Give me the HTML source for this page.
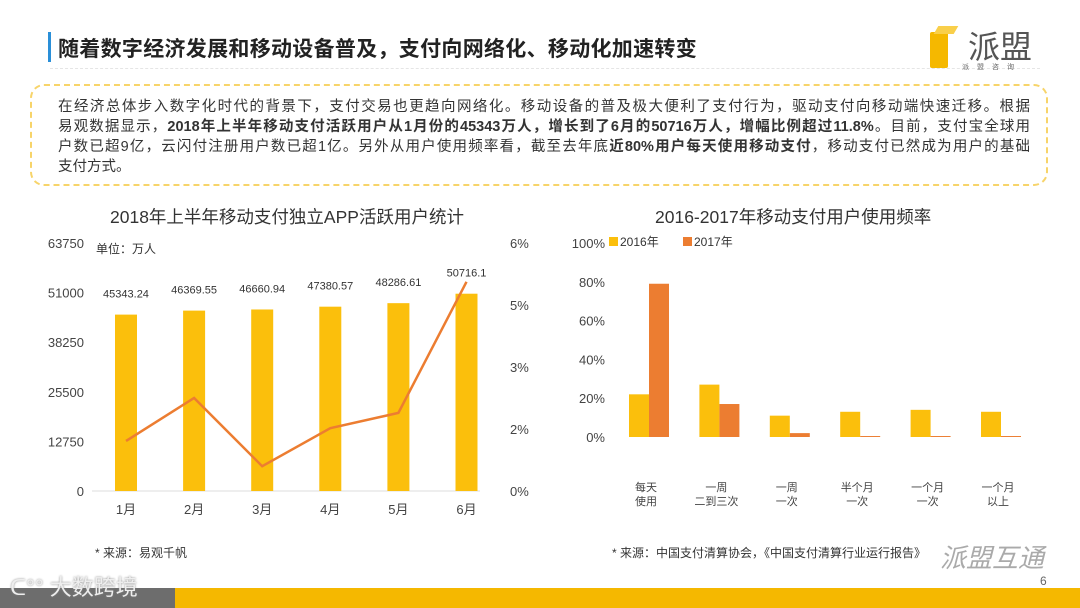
<!DOCTYPE html>
<html><head><meta charset="utf-8"><style>
body{margin:0;width:1080px;height:608px;position:relative;background:#fff;font-family:"Liberation Sans","Noto Sans CJK SC",sans-serif;overflow:hidden;color:#333}
.abs{position:absolute}
.ln{position:absolute;left:58px;width:972px;font-size:14.5px;white-space:nowrap;text-align:justify;text-align-last:justify;color:#333}
</style></head><body>
<div class="abs" style="left:48px;top:32px;width:3px;height:30px;background:#2a8fd8"></div>
<div class="abs" style="left:58px;top:33px;font-size:21px;font-weight:bold;color:#222;letter-spacing:0.3px">随着数字经济发展和移动设备普及，支付向网络化、移动化加速转变</div>
<div class="abs" style="left:50px;top:68px;width:990px;border-top:1px dashed #e5e5e5"></div>
<div class="abs" style="left:930px;top:26px;width:110px;height:50px">
  <div class="abs" style="left:0;top:6px;width:18px;height:36px;background:#f5b800;border-radius:2px"></div>
  <div class="abs" style="left:6px;top:0;width:20px;height:8px;background:#f9cf4a;transform:skewX(-30deg)"></div>
  <div class="abs" style="left:38px;top:-4px;font-size:32px;color:#555">派盟</div>
  <div class="abs" style="left:32px;top:36px;font-size:7px;color:#666;letter-spacing:8px">派盟咨询</div>
</div>
<div class="abs" style="left:30px;top:84px;width:1018px;height:102px;border:2px dashed #f7d46a;border-radius:14px;box-sizing:border-box"></div>
<div>
<div class="ln" style="top:95px">在经济总体步入数字化时代的背景下，支付交易也更趋向网络化。移动设备的普及极大便利了支付行为，驱动支付向移动端快速迁移。根据</div>
<div class="ln" style="top:115px">易观数据显示，<b>2018年上半年移动支付活跃用户从1月份的45343万人，增长到了6月的50716万人，增幅比例超过11.8%</b>。目前，支付宝全球用</div>
<div class="ln" style="top:135px">户数已超9亿，云闪付注册用户数已超1亿。另外从用户使用频率看，截至去年底<b>近80%用户每天使用移动支付</b>，移动支付已然成为用户的基础</div>
<div class="ln" style="top:155px;text-align-last:left">支付方式。</div>
</div>

<div class="abs" style="left:110px;top:204px;font-size:17.5px;color:#333">2018年上半年移动支付独立APP活跃用户统计</div>
<div class="abs" style="left:655px;top:204px;font-size:17.5px;color:#333">2016-2017年移动支付用户使用频率</div>

<svg class="abs" style="left:0;top:0" width="1080" height="608">
<g id="left"></g><g id="right"></g>
</svg>

<div class="abs" style="left:95px;top:544px;font-size:12px;color:#333">* 来源：易观千帆</div>
<div class="abs" style="left:612px;top:544px;font-size:12px;color:#333">* 来源：中国支付清算协会，《中国支付清算行业运行报告》</div>
<div class="abs" style="left:940px;top:538px;font-size:26px;color:#aaa;font-style:italic">派盟互通</div>
<div class="abs" style="left:1040px;top:574px;font-size:12px;color:#666">6</div>
<div class="abs" style="left:0;top:588px;width:175px;height:20px;background:#6d6d6d"></div>
<div class="abs" style="left:175px;top:588px;width:905px;height:20px;background:#f5b800"></div>
<div class="abs" style="left:10px;top:570px;font-size:22px;color:#eee;text-shadow:0 0 2px #888">ᑕ°° 大数跨境</div>

<script>
const NS='http://www.w3.org/2000/svg';
const months=['1月','2月','3月','4月','5月','6月'];
const users=[45343.24,46369.55,46660.94,47380.57,48286.61,50716.1];
const userLabels=['45343.24','46369.55','46660.94','47380.57','48286.61','50716.1'];
const growth=[1.21,2.25,0.6,1.52,1.89,5.06];
const leftTicks=[0,12750,25500,38250,51000,63750];
const rightTicks=[0,1.5,3,4.5,6];
const freqCats=[['每天','使用'],['一周','二到三次'],['一周','一次'],['半个月','一次'],['一个月','一次'],['一个月','以上']];
const y2016=[22,27,11,13,14,13];
const y2017=[79,17,2,0.5,0.5,0.5];
const pctTicks=[0,20,40,60,80,100];

function mk(tag,attrs,parent,txt){const e=document.createElementNS(NS,tag);for(const k in attrs)e.setAttribute(k,attrs[k]);if(txt!==undefined)e.textContent=txt;parent.appendChild(e);return e;}
const L=document.getElementById('left'),R=document.getElementById('right');
const lx=i=>126+i*68.1, ly=v=>491-v/63750*248, ry=v=>491-v/6*248;
for(const t of leftTicks){const e=mk('text',{x:84,y:ly(t)+5,'text-anchor':'end','font-size':13,fill:'#444'},L,String(t));

}
for(const t of rightTicks){const e=mk('text',{x:510,y:ry(t)+5,'font-size':13,fill:'#444'},L,Math.round(t)+'%');

}
const u=mk('text',{x:96,y:253,'font-size':12,fill:'#333'},L,'单位：万人');


mk('line',{x1:92,y1:491,x2:480,y2:491,stroke:'#ddd'},L);
users.forEach((v,i)=>{
 const b=mk('rect',{x:lx(i)-11,y:ly(v),width:22,height:491-ly(v),fill:'#fbbf0c'},L);
 
 
 const t=mk('text',{x:lx(i),y:ly(v)-17,'text-anchor':'middle','font-size':11,fill:'#333'},L,userLabels[i]);
 
 
 const m=mk('text',{x:lx(i),y:514,'text-anchor':'middle','font-size':13,fill:'#444'},L,months[i]);
 
 
});
const ln=mk('polyline',{points:growth.map((g,i)=>lx(i)+','+ry(g)).join(' '),fill:'none',stroke:'#ec7d31','stroke-width':2.5},L);


const cx=i=>649+i*70.4, py=v=>437-v/100*194;
for(const t of pctTicks){const e=mk('text',{x:605,y:py(t)+5,'text-anchor':'end','font-size':13,fill:'#444'},R,t+'%');

}
freqCats.forEach((c,i)=>{
 const a=mk('rect',{x:cx(i)-20,y:py(y2016[i]),width:20,height:437-py(y2016[i]),fill:'#fbbf0c'},R);
 
 
 const b=mk('rect',{x:cx(i),y:py(y2017[i]),width:20,height:437-py(y2017[i]),fill:'#ec7d31'},R);
 
 
 c.forEach((s,k)=>{const t=mk('text',{x:cx(i)-3,y:491+k*14,'text-anchor':'middle','font-size':11,fill:'#444'},R,s);
 
 });
});
[['2016年','#fbbf0c',609],['2017年','#ec7d31',683]].forEach(([n,c,x])=>{
 const s=mk('rect',{x:x,y:237,width:9,height:9,fill:c},R);
 
 
 const t=mk('text',{x:x+11,y:246,'font-size':12,fill:'#333'},R,n);
 
 
});
</script>
</body></html>
